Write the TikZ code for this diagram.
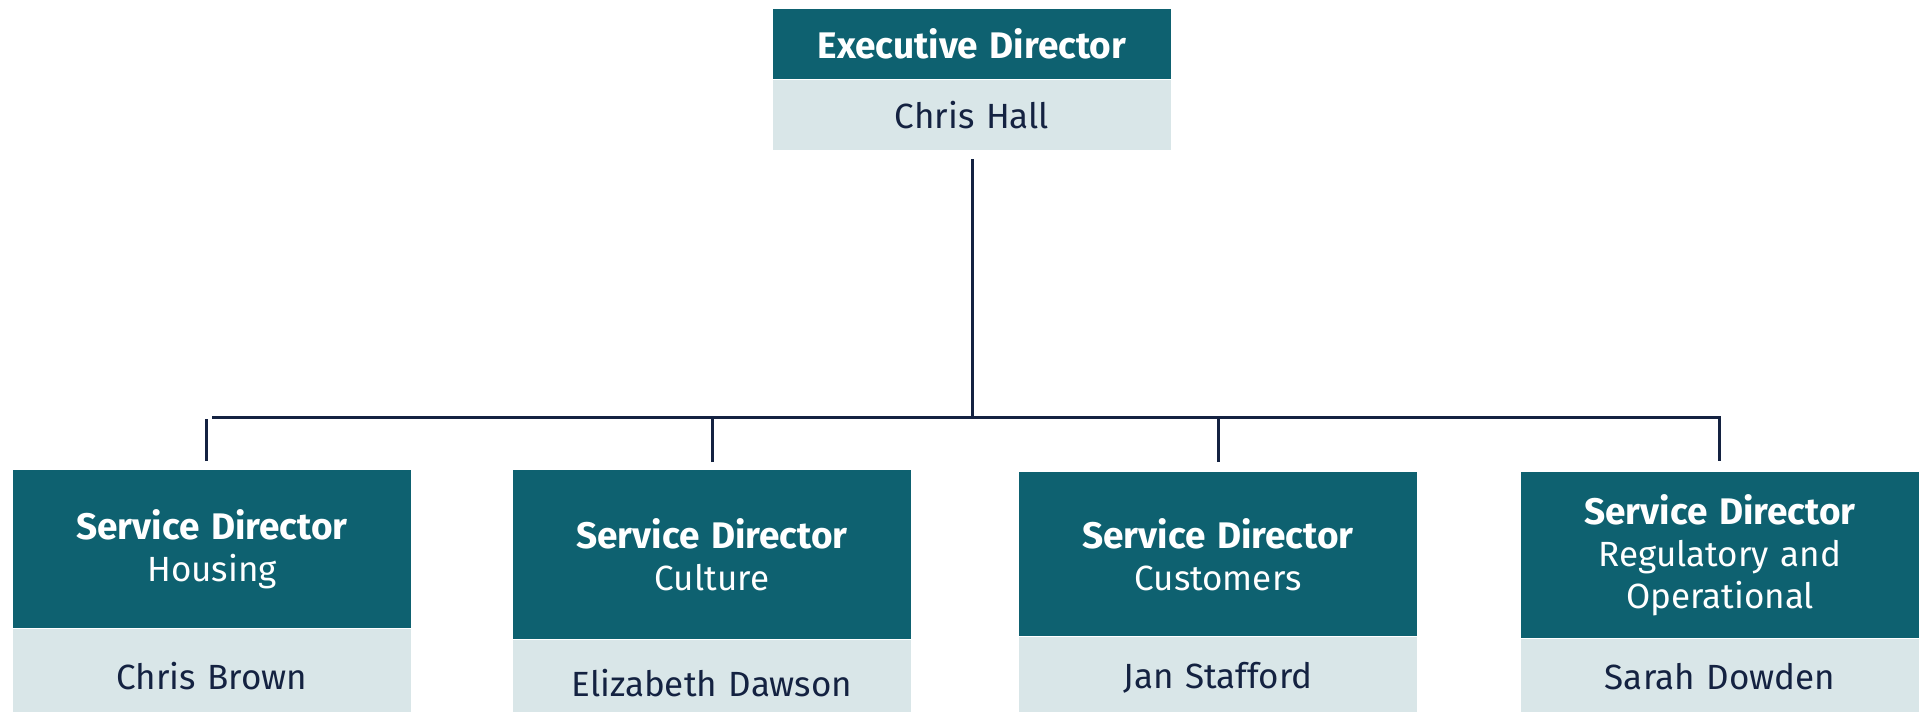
\documentclass[tikz,border=0pt]{standalone}
\usepackage{fontspec}
\setmainfont{Fira Sans}
\usepackage{tikz}
\usetikzlibrary{positioning}
\definecolor{teal}{HTML}{0E6170}
\definecolor{pale}{HTML}{D9E6E8}
\definecolor{navy}{HTML}{142241}

\begin{document}
\begin{tikzpicture}[x=0.5pt,y=-0.5pt,node distance=0pt,
role node/.style={rectangle,fill=teal,text=white,inner sep=0pt,minimum width=199pt,text width=199pt,align=center,font=\fontsize{17.5}{21}\selectfont},
name node/.style={rectangle,fill=pale,text=navy,inner sep=0pt,minimum width=199pt,text width=199pt,align=center,font=\fontsize{17.5}{21}\selectfont},
link/.style={draw=navy,line width=1.5pt}]

\useasboundingbox (0,0) rectangle (1919,712);

\node[role node,minimum height=35pt] (exec) at (972,44) {\textbf{\fontsize{18.5}{21}\selectfont Executive Director}};
\node[name node,minimum height=35pt] (hall) [below=of exec] {Chris Hall};

\node[role node,minimum height=79pt,anchor=north] (sd1) at (212,470) {\textbf{\fontsize{18.5}{21}\selectfont Service Director}\\Housing};
\node[name node,minimum height=47pt] (brown) [below=of sd1] {Chris Brown};
\node[role node,minimum height=84.5pt,anchor=north] (sd2) at (712,470) {\textbf{\fontsize{18.5}{21}\selectfont Service Director}\\Culture};
\node[name node,minimum height=43pt] (dawson) [below=of sd2] {Elizabeth Dawson};
\node[role node,minimum height=82pt,anchor=north] (sd3) at (1218,472) {\textbf{\fontsize{18.5}{21}\selectfont Service Director}\\Customers};
\node[name node,minimum height=41pt] (stafford) [below=of sd3] {Jan Stafford};
\node[role node,minimum height=83pt,anchor=north] (sd4) at (1720,472) {\textbf{\fontsize{18.5}{21}\selectfont Service Director}\\Regulatory and\\Operational};
\node[name node,minimum height=37pt] (dowden) [below=of sd4] {Sarah Dowden};

\coordinate (busL) at (212,417);
\coordinate (busR) at (1719,417);

\draw[link] ([yshift=-4.5pt]hall.south) -- (hall.south |- busL);
\draw[link] (busL) -- (busR) -- ([yshift=5.5pt]busR |- sd4.north);
\draw[link] ([xshift=-3pt,yshift=4.5pt]sd1.north) -- ++(0,-42);
\draw[link] ([yshift=4pt]sd2.north) -- ++(0,-43);
\draw[link] ([yshift=5pt]sd3.north) -- ++(0,-44);
\end{tikzpicture}
\end{document}
